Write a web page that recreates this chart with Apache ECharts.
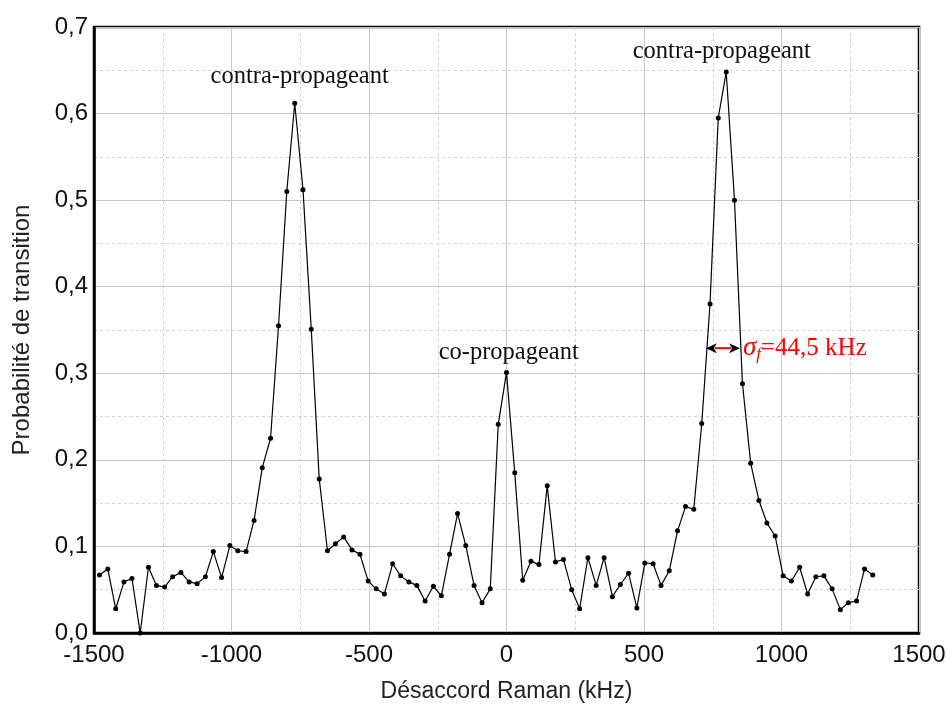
<!DOCTYPE html>
<html>
<head>
<meta charset="utf-8">
<script src="https://cdn.jsdelivr.net/npm/echarts@6/dist/echarts.min.js"></script>
<style>html,body{margin:0;padding:0;background:#fff}#c{width:949px;height:708px}</style>
</head>
<body>
<div id="c"></div>
<script>
// Detuning (kHz)
const detuning = [-1480,-1450,-1421,-1391,-1362,-1332,-1302,-1273,-1243,-1214,-1184,-1154,-1125,-1095,-1066,-1036,-1006,-977,-947,-918,
  -888,-858,-829,-799,-770,-740,-710,-681,-651,-622,-592,-562,-533,-503,-474,-444,-414,-385,-355,-326,
  -296,-266,-237,-207,-178,-148,-118,-89,-59,-30,0,30,59,89,118,148,178,207,237,266,
  296,326,355,385,414,444,474,503,533,562,592,622,651,681,710,740,770,799,829,858,
  888,918,947,977,1006,1036,1066,1095,1125,1154,1184,1214,1243,1273,1302,1332];
// Transition probability
const probability = [0.067,0.074,0.028,0.059,0.063,0.0,0.076,0.055,0.053,0.065,0.070,0.059,0.057,0.065,0.094,0.064,0.101,0.095,0.094,0.130,
  0.191,0.225,0.355,0.510,0.612,0.512,0.351,0.178,0.095,0.103,0.111,0.096,0.091,0.060,0.051,0.045,0.080,0.066,0.059,0.055,
  0.037,0.054,0.043,0.091,0.138,0.101,0.055,0.035,0.051,0.241,0.301,0.185,0.061,0.083,0.079,0.170,0.082,0.085,0.050,0.028,
  0.087,0.055,0.087,0.042,0.056,0.069,0.029,0.081,0.080,0.055,0.072,0.118,0.146,0.143,0.242,0.380,0.595,0.648,0.500,0.288,
  0.196,0.153,0.127,0.112,0.066,0.060,0.076,0.045,0.065,0.066,0.051,0.027,0.035,0.037,0.074,0.067];

const xAxisTitle = 'Désaccord Raman (kHz)';
const yAxisTitle = 'Probabilité de transition';
const peakLabels = ['contra-propageant', 'co-propageant', 'contra-propageant'];
const peakLabelPos = [[-752, 0.643], [8, 0.324], [783, 0.672]];
const widthLabel = '44,5 kHz';

const chart = echarts.init(document.getElementById('c'), null, {renderer: 'canvas'});
const sans = '"Liberation Sans", Arial, sans-serif';
const serif = '"Liberation Serif", "Times New Roman", serif';

chart.setOption({
  animation: false,
  backgroundColor: '#fff',
  grid: {left: 94, right: 30, top: 27, bottom: 75, show: true, borderColor: '#000', borderWidth: 2.5, backgroundColor: 'transparent'},
  xAxis: {
    type: 'value', min: -1500, max: 1500, interval: 500,
    name: xAxisTitle, nameLocation: 'middle', nameGap: 47,
    nameTextStyle: {fontFamily: sans, fontSize: 23, color: '#222'},
    axisLine: {show: true, onZero: false, lineStyle: {color: '#000', width: 2.5}},
    axisTick: {show: false},
    minorTick: {show: false, splitNumber: 2},
    axisLabel: {fontFamily: sans, fontSize: 24, color: '#111', margin: 10, formatter: v => String(v)},
    splitLine: {show: true, lineStyle: {color: '#c8c8c8', width: 1}},
    minorSplitLine: {show: true, lineStyle: {color: '#d2d2d2', width: 1, type: [3, 3]}}
  },
  yAxis: {
    type: 'value', min: 0, max: 0.7, interval: 0.1,
    name: yAxisTitle, nameLocation: 'middle', nameGap: 60, nameRotate: 90,
    nameTextStyle: {fontFamily: sans, fontSize: 24, color: '#222'},
    axisLine: {show: true, onZero: false, lineStyle: {color: '#000', width: 2.5}},
    axisTick: {show: false},
    minorTick: {show: false, splitNumber: 2},
    axisLabel: {fontFamily: sans, fontSize: 24, color: '#111', margin: 6,
      formatter: v => v.toFixed(1).replace('.', ',')},
    splitLine: {show: true, lineStyle: {color: '#c8c8c8', width: 1}},
    minorSplitLine: {show: true, lineStyle: {color: '#d2d2d2', width: 1, type: [3, 3]}}
  },
  series: [{
    type: 'line',
    data: detuning.map((d, i) => [d, probability[i]]),
    symbol: 'circle', symbolSize: 5, showSymbol: true,
    lineStyle: {color: '#000', width: 1.2},
    itemStyle: {color: '#000'},
    clip: true
  }]
});

function px(p) { return chart.convertToPixel({gridIndex: 0}, p); }
const graphics = [];
peakLabels.forEach((t, i) => {
  const p = px(peakLabelPos[i]);
  graphics.push({type: 'text', x: p[0], y: p[1], style: {text: t, font: '24.5px ' + serif, fill: '#111', textAlign: 'center', textVerticalAlign: 'middle'}});
});
// width arrow
const a0 = px([725, 0.329]), a1 = px([849, 0.329]);
const ay = a0[1];
graphics.push({type: 'line', shape: {x1: a0[0] + 9, y1: ay, x2: a1[0] - 9, y2: ay}, style: {stroke: '#ff0000', lineWidth: 2}});
graphics.push({type: 'polygon', shape: {points: [[a0[0], ay], [a0[0] + 11, ay - 5], [a0[0] + 8, ay], [a0[0] + 11, ay + 5]]}, style: {fill: '#000'}});
graphics.push({type: 'polygon', shape: {points: [[a1[0], ay], [a1[0] - 11, ay - 5], [a1[0] - 8, ay], [a1[0] - 11, ay + 5]]}, style: {fill: '#000'}});
graphics.push({type: 'text', x: a1[0] + 3, y: ay,
  style: {
    text: '{s|σ}{f|f}{n|=' + widthLabel + '}',
    textVerticalAlign: 'middle',
    rich: {
      s: {font: 'italic 27px ' + serif, fill: '#ff0000'},
      f: {font: 'italic 17px ' + serif, fill: '#ff0000', padding: [12, 0, 0, 0]},
      n: {font: '25px ' + serif, fill: '#ff0000'}
    }
  }});
chart.setOption({graphic: graphics});
</script>
</body>
</html>
